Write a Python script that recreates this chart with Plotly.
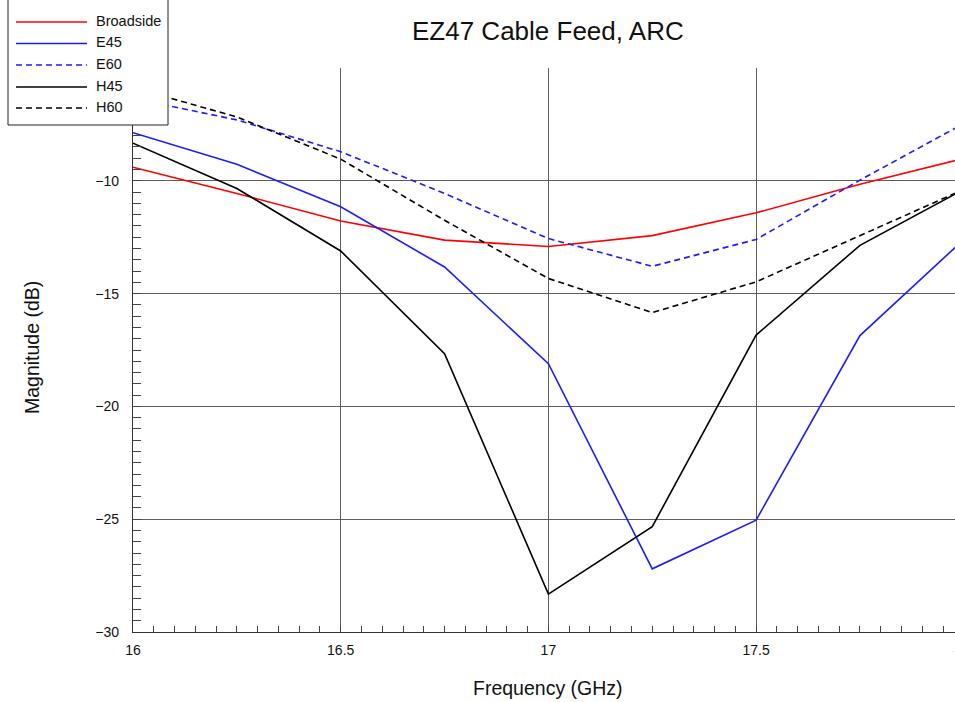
import plotly.graph_objects as go

# ---------------- data ----------------
freq = [16.0, 16.25, 16.5, 16.75, 17.0, 17.25, 17.5, 17.75, 18.0]
broadside = [-9.40, -10.56, -11.78, -12.63, -12.91, -12.43, -11.42, -10.15, -9.01]
e45 = [-7.87, -9.27, -11.15, -13.82, -18.11, -27.20, -25.04, -16.86, -12.60]
e60 = [-6.35, -7.30, -8.71, -10.56, -12.56, -13.79, -12.60, -9.97, -7.46]
h45 = [-8.33, -10.34, -13.11, -17.66, -28.32, -25.33, -16.84, -12.86, -10.38]
h60 = [-5.87, -7.17, -9.04, -11.75, -14.33, -15.84, -14.48, -12.41, -10.38]

series_names = ["Broadside", "E45", "E60", "H45", "H60"]
series_values = [broadside, e45, e60, h45, h60]
series_colors = ["#ff0000", "#1c1cff", "#1c1cff", "#000000", "#000000"]
series_dash = ["solid", "solid", "6px,4px", "solid", "6px,4px"]

x_tick_vals = [16.0, 16.5, 17.0, 17.5]
x_tick_text = ["16", "16.5", "17", "17.5"]
x_last_label = "18"
y_tick_vals = [-30, -25, -20, -15, -10, -5]
y_tick_text = ["\u221230", "\u221225", "\u221220", "\u221215", "\u221210", ""]  # -5 hidden by legend

title_text = "EZ47 Cable Feed, ARC"
x_title = "Frequency (GHz)"
y_title = "Magnitude (dB)"

# ---------------- layout geometry ----------------
W, H = 955, 702
ML, MR, MT, MB = 133, 0, 68, 70
plot_w = W - ML - MR
plot_h = H - MT - MB
px_per_ghz = 415.4
x_min = 16.0
x_max_vis = x_min + plot_w / px_per_ghz

FONT = "Liberation Sans, Arial, sans-serif"
TXT = "#111111"


def px2paper_x(px):
    return (px - ML) / plot_w


def px2paper_y(py):
    return (H - MB - py) / plot_h


fig = go.Figure()
for name, vals, col, dash in zip(series_names, series_values, series_colors, series_dash):
    fig.add_trace(go.Scatter(
        x=freq, y=vals, name=name, mode="lines",
        line=dict(color=col, width=1.6, dash=dash),
        showlegend=False,
    ))

shapes = []
annotations = []

# manual legend box (drawn above the data)
shapes.append(dict(type="rect", xref="paper", yref="paper",
                   x0=px2paper_x(8), x1=px2paper_x(168),
                   y0=px2paper_y(125), y1=px2paper_y(-3),
                   line=dict(color="#222", width=1), fillcolor="white", layer="above"))
row_y = [22, 43.5, 65, 87, 108]
for name, col, dash, ry in zip(series_names, series_colors, series_dash, row_y):
    shapes.append(dict(type="line", xref="paper", yref="paper",
                       x0=px2paper_x(16), x1=px2paper_x(87),
                       y0=px2paper_y(ry), y1=px2paper_y(ry),
                       line=dict(color=col, width=1.6, dash=dash), layer="above"))
    annotations.append(dict(text=name, xref="paper", yref="paper",
                            x=px2paper_x(94), y=px2paper_y(ry - 1),
                            xanchor="left", yanchor="middle", showarrow=False,
                            font=dict(family=FONT, size=14.5, color=TXT)))

# title
annotations.append(dict(text=title_text, xref="paper", yref="paper",
                        x=px2paper_x(548), y=px2paper_y(31),
                        xanchor="center", yanchor="middle", showarrow=False,
                        font=dict(family=FONT, size=26, color=TXT)))
# axis titles
annotations.append(dict(text=x_title, xref="paper", yref="paper",
                        x=px2paper_x(548), y=px2paper_y(688),
                        xanchor="center", yanchor="middle", showarrow=False,
                        font=dict(family=FONT, size=19.5, color=TXT)))
annotations.append(dict(text=y_title, xref="paper", yref="paper",
                        x=px2paper_x(32), y=px2paper_y(348),
                        xanchor="center", yanchor="middle", showarrow=False,
                        textangle=-90,
                        font=dict(family=FONT, size=19.5, color=TXT)))
# last x tick label, partly outside the window (as in the reference)
annotations.append(dict(text=x_last_label, xref="paper", yref="paper",
                        x=px2paper_x(962), y=px2paper_y(647),
                        xanchor="center", yanchor="middle", showarrow=False,
                        font=dict(family=FONT, size=14, color=TXT)))

fig.update_layout(
    width=W, height=H,
    margin=dict(l=ML, r=MR, t=MT, b=MB, pad=0),
    paper_bgcolor="white", plot_bgcolor="white",
    font=dict(family=FONT, size=14, color=TXT),
    shapes=shapes, annotations=annotations,
    showlegend=False,
)
fig.update_xaxes(
    range=[x_min, x_max_vis], tickvals=x_tick_vals, ticktext=x_tick_text,
    showgrid=True, gridcolor="#5e5e5e", gridwidth=1,
    showline=True, linecolor="#333", linewidth=1.2,
    ticks="inside", ticklen=6, tickcolor="#444",
    tickfont=dict(family=FONT, size=14, color=TXT),
    minor=dict(dtick=0.05, tick0=16, ticks="inside", ticklen=6, tickcolor="#444", showgrid=False),
    zeroline=False, ticklabelstandoff=5,
)
fig.update_yaxes(
    range=[-30, -5], tickvals=y_tick_vals, ticktext=y_tick_text,
    showgrid=True, gridcolor="#5e5e5e", gridwidth=1,
    showline=True, linecolor="#333", linewidth=1.2,
    ticks="inside", ticklen=8, tickcolor="#444",
    tickfont=dict(family=FONT, size=14, color=TXT),
    minor=dict(dtick=0.5, tick0=-30, ticks="inside", ticklen=8, tickcolor="#444", showgrid=False),
    zeroline=False, ticklabelstandoff=10,
)

fig.write_html("out.html")
